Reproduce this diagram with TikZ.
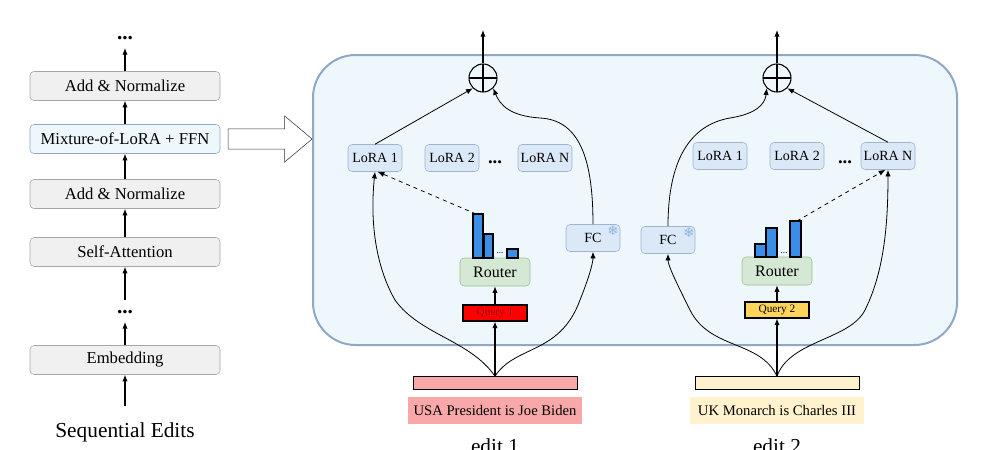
\documentclass[tikz,border=0pt]{standalone}
\usepackage{fontspec}
\setmainfont{Liberation Serif}
\newfontfamily\djv{DejaVu Sans}
\usetikzlibrary{arrows.meta,shapes.arrows}
\definecolor{panel}{HTML}{EEF8FC}
\definecolor{panelb}{HTML}{90A8C8}
\definecolor{lora}{HTML}{DAE8F8}
\definecolor{lorab}{HTML}{A0B4CC}
\definecolor{rout}{HTML}{D5E8D4}
\definecolor{routb}{HTML}{9CC090}
\definecolor{bar}{HTML}{3A8EE8}
\definecolor{pinkc}{HTML}{F8A8A8}
\definecolor{yel}{HTML}{FFF2CC}
\definecolor{qy}{HTML}{FFD45A}
\definecolor{snowc}{HTML}{8FB4E0}
\begin{document}
\begin{tikzpicture}[x=0.75pt,y=-0.75pt,
  lb/.style={draw=gray!70,fill=gray!12,rounded corners=3pt,minimum width=190*0.75pt,minimum height=29*0.75pt,font=\fontsize{12.5}{14}\selectfont},
  lo/.style={draw=lorab,fill=lora,rounded corners=3pt,minimum width=54*0.75pt,minimum height=27*0.75pt,inner sep=1pt,font=\fontsize{10.5}{12}\selectfont},
  ro/.style={draw=routb,fill=rout,rounded corners=3pt,minimum width=70*0.75pt,minimum height=28*0.75pt,font=\fontsize{12}{14}\selectfont},
  ar/.style={-{Latex[length=5pt,width=4pt]},thick,black},
  cv/.style={-{Latex[length=5pt,width=4pt]},semithick,black},
  br/.style={draw=black,thick,fill=bar},
  q/.style={draw=black,thick,minimum width=64*0.75pt,minimum height=16*0.75pt,inner sep=0pt,font=\fontsize{8.5}{9}\selectfont},
  tb/.style={draw=black,minimum width=164*0.75pt,minimum height=13*0.75pt,inner sep=0pt},
  tl/.style={minimum width=174*0.75pt,minimum height=27*0.75pt,inner sep=0pt,font=\fontsize{11}{13}\selectfont},
  dd/.style={font=\fontsize{16}{16}\selectfont\bfseries},
  snow/.style={text=snowc,font=\djv\fontsize{10}{10}\selectfont},
  pl/.style={draw,thick,circle,minimum size=28*0.75pt,inner sep=0pt,path picture={\draw[thick] (path picture bounding box.north)--(path picture bounding box.south) (path picture bounding box.west)--(path picture bounding box.east);}}]
\useasboundingbox (0,0) rectangle (990,450);
% left column
\node[lb] (an1) at (125,86) {Add \& Normalize};
\node[lb,fill=panel,draw=panelb] (mix) at (125,139) {Mixture-of-LoRA + FFN};
\node[lb] (an2) at (125,194) {Add \& Normalize};
\node[lb] (sa) at (125,252) {Self-Attention};
\node[lb] (emb) at (125,360) {Embedding};
\node[dd] (d1) at (125,38) {...};
\node[dd] (d2) at (125,312) {...};
\coordinate (e0) at (125,406);
\coordinate (t0) at (125,48);
\coordinate (d2b) at (125,300);
\node[font=\fontsize{16}{18}\selectfont] (seq) at (125,432) {Sequential Edits};
\draw[ar] (e0) -- (emb);
\draw[ar] (emb) -- (125,322);
\draw[ar] (d2b) -- (sa);
\draw[ar] (sa) -- (an2);
\draw[ar] (an2) -- (mix);
\draw[ar] (mix) -- (an1);
\draw[ar] (an1) -- (t0);
\node[single arrow,draw=black!80,fill=white,minimum height=84*0.75pt,minimum width=46*0.75pt,single arrow head extend=4pt,single arrow tip angle=80,inner sep=3pt] (big) at (264,139) {};
% panel
\draw[panelb,line width=1.5pt,fill=panel,rounded corners=32pt] (313,55) rectangle (957,345);
% ===== edit 1
\node[pl] (pA) at (483,78) {};
\coordinate (oA) at (483,30);
\draw[ar] (pA) -- (oA);
\node[lo] (A1) at (375,158) {LoRA 1};
\node[lo] (A2) at (452,158) {LoRA 2};
\node[dd,font=\fontsize{14}{14}\selectfont\bfseries] (Ad) at (495,162) {...};
\node[lo] (AN) at (545,158) {LoRA N};
\node[lo] (AF) at (593,238) {FC};
\node[snow] (As) at (613,231) {❄};
\node[ro] (AR) at (495,272) {Router};
\node[q,fill=red,text=red!60!black] (AQ) at (495,313) {Query 1};
\draw[br] (473,258) rectangle (483,214);
\coordinate (Abt) at (476,214);
\draw[br] (484,258) rectangle (493,234);
\draw[br] (507,258) rectangle (518,249);
\node[font=\fontsize{7}{7}\selectfont] (Abd) at (500,253) {...};
\node[tb,fill=pinkc] (AT) at (495,383) {};
\node[tl,fill=pinkc] (AL) at (495,410) {USA President is Joe Biden};
\node[font=\fontsize{16}{18}\selectfont] (AE) at (495,446) {edit 1};
\draw[ar] (AT.north) -- (AQ);
\draw[ar] (AQ) -- (AR);
\draw[cv] (AT.north) .. controls (470,340) and (420,335) .. (395,300) .. controls (375,265) and (370,220) .. (A1.south);
\draw[cv] (AT.north) .. controls (515,345) and (560,355) .. (580,300) .. controls (590,275) and (593,262) .. (AF.south);
\draw[cv,dashed] (Abt) -- ([xshift=2pt]A1.south);
\draw[cv] (A1.north) -- (pA.south west);
\draw[cv] (AF.north) .. controls (593,160) and (580,120) .. (540,118) .. controls (510,116) and (500,105) .. (pA.south east);
% ===== edit 2
\node[pl] (pB) at (777,78) {};
\coordinate (oB) at (777,30);
\draw[ar] (pB) -- (oB);
\node[lo] (B1) at (720,156) {LoRA 1};
\node[lo] (B2) at (797,156) {LoRA 2};
\node[dd,font=\fontsize{14}{14}\selectfont\bfseries] (Bd) at (845,162) {...};
\node[lo] (BN) at (888,156) {LoRA N};
\node[lo] (BF) at (668,240) {FC};
\node[snow] (Bs) at (689,233) {❄};
\node[ro] (BR) at (777,271) {Router};
\node[q,fill=qy] (BQ) at (777,310) {Query 2};
\draw[br] (755,257) rectangle (766,244);
\draw[br] (766,257) rectangle (777,228);
\draw[br] (790,257) rectangle (801,221);
\coordinate (Bbt) at (797,221);
\node[font=\fontsize{7}{7}\selectfont] (Bbd) at (784,253) {...};
\node[tb,fill=yel] (BT) at (777,383) {};
\node[tl,fill=yel] (BL) at (777,410) {UK Monarch is Charles III};
\node[font=\fontsize{16}{18}\selectfont] (BE) at (777,446) {edit 2};
\draw[ar] (BT.north) -- (BQ);
\draw[ar] (BQ) -- (BR);
\draw[cv] (BT.north) .. controls (760,340) and (710,350) .. (690,310) .. controls (675,280) and (668,265) .. (BF.south);
\draw[cv] (BT.north) .. controls (790,340) and (850,340) .. (865,310) .. controls (885,270) and (888,220) .. (BN.south);
\draw[cv,dashed] (Bbt) -- ([xshift=-2pt]BN.south);
\draw[cv] (BN.north) -- (pB.south east);
\draw[cv] (BF.north) .. controls (668,160) and (690,125) .. (730,118) .. controls (755,114) and (765,105) .. (pB.south west);
\end{tikzpicture}
\end{document}
